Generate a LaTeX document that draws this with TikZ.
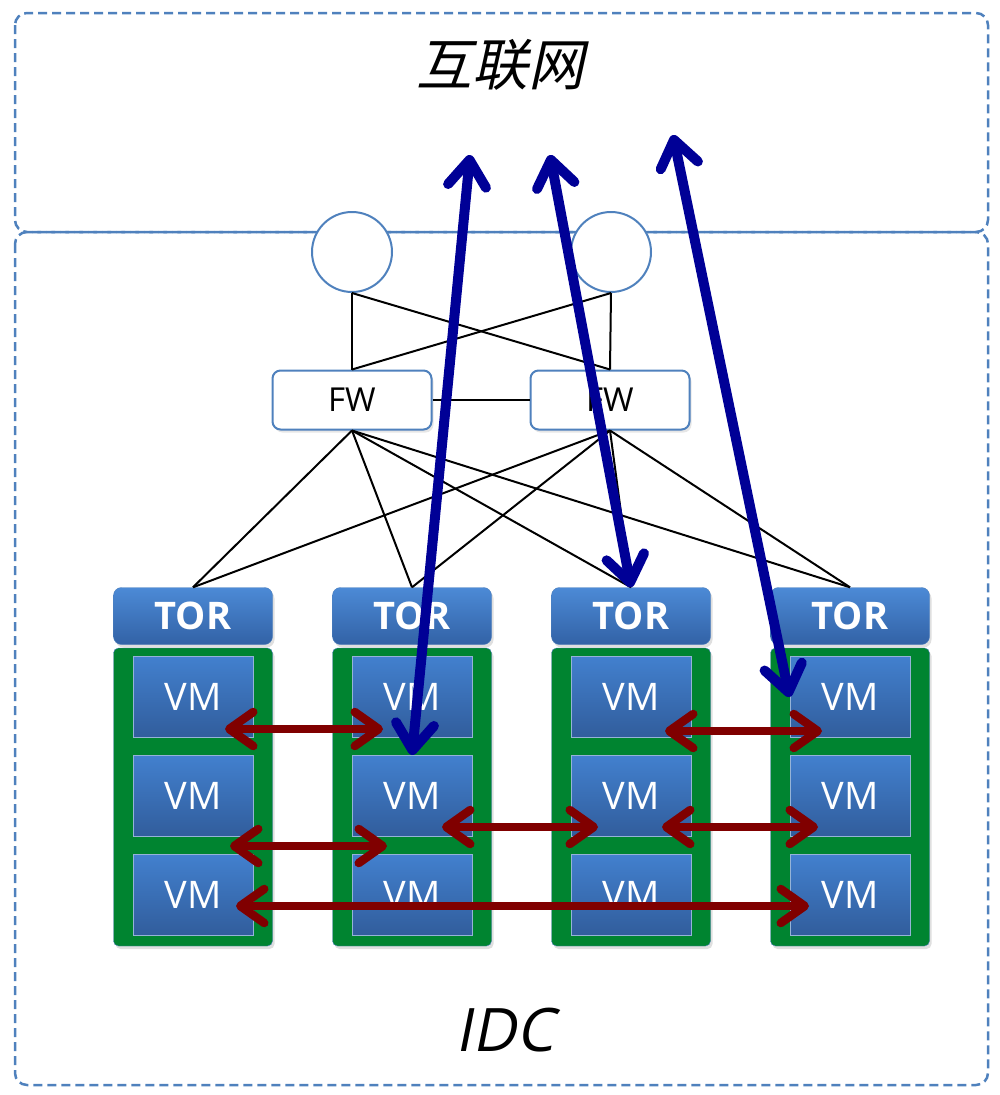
\documentclass[tikz,border=0pt]{standalone}
\usepackage{fontspec}
\setmainfont{Open Sans}
\newfontfamily\cjk{Noto Sans CJK SC}[FakeSlant=0.22]
\newfontfamily\slanted{Open Sans}[FakeSlant=0.2]
\usetikzlibrary{arrows.meta,shadows}

\definecolor{linkblue}{RGB}{79,129,189}
\definecolor{tortop}{RGB}{76,138,214}
\definecolor{torbottom}{RGB}{50,98,166}
\definecolor{vmtop}{RGB}{66,128,206}
\definecolor{vmbottom}{RGB}{49,93,156}
\definecolor{rackgreen}{RGB}{0,132,48}
\definecolor{flownavy}{RGB}{0,0,150}
\definecolor{flowred}{RGB}{128,0,0}

\tikzset{
  zone/.style={draw=linkblue,line width=2.5pt,dash pattern=on 9pt off 5pt,rounded corners=12pt},
  router/.style={circle,draw=linkblue,line width=2pt,fill=white,minimum size=80pt,inner sep=0pt},
  fwbox/.style={draw=linkblue,line width=2pt,fill=white,rounded corners=8pt,
    minimum width=159pt,minimum height=59pt,font=\fontsize{33}{35}\selectfont,
    drop shadow={opacity=0.2,shadow xshift=2pt,shadow yshift=-3pt}},
  torbox/.style={rounded corners=8pt,top color=tortop,bottom color=torbottom,draw=linkblue,
    minimum width=159pt,minimum height=57pt,text=white,font=\bfseries\fontsize{38}{40}\selectfont,
    drop shadow={opacity=0.25,shadow xshift=2pt,shadow yshift=-3pt}},
  rack/.style={fill=rackgreen,draw=linkblue,rounded corners=5pt,minimum width=159pt,minimum height=298pt,
    drop shadow={opacity=0.25,shadow xshift=2pt,shadow yshift=-3pt}},
  vmbox/.style={top color=vmtop,bottom color=vmbottom,draw=linkblue!60!white,line width=1pt,
    minimum width=120pt,minimum height=81pt,text=white,font=\fontsize{38}{40}\selectfont},
  link/.style={line width=2pt},
  uplink/.style={line width=10pt,flownavy,
    {Straight Barb[round,length=26pt,width=38pt]}-{Straight Barb[round,length=26pt,width=38pt]}},
  vmlink/.style={line width=8.5pt,flowred,
    {Straight Barb[round,length=24pt,width=34pt]}-{Straight Barb[round,length=24pt,width=34pt]}}
}

\begin{document}
\begin{tikzpicture}[x=1pt,y=-1pt]
\useasboundingbox (0,0) rectangle (999,1095);
% zones
\draw[zone] (15,13) rectangle (988,232);
\draw[zone] (15,232) rectangle (988,1085);
\node[font=\cjk\fontsize{56}{58}\selectfont] (inet) at (500,65) {互联网};
\node[font=\slanted\fontsize{60}{62}\selectfont] (idc) at (505,1030) {IDC};

% routers and firewalls
\node[router] (r1) at (352,252) {};
\node[router] (r2) at (611,252) {};
\node[fwbox] (fw1) at (352,400) {FW};
\node[fwbox] (fw2) at (610,400) {FW};
\draw[link] (r1.south) -- (fw1.north);
\draw[link] (r1.south) -- (fw2.north);
\draw[link] (r2.south) -- (fw2.north);
\draw[link] (r2.south) -- (fw1.north);
\draw[link] (fw1.east) -- (fw2.west);

% racks
\foreach \c/\x in {1/193,2/412,3/631,4/850}{
  \node[rack] (rack\c) at (\x,797) {};
  \node[torbox] (tor\c) at (\x,616) {TOR};
  \foreach \v/\y in {1/697,2/796,3/895}
    \node[vmbox] (vm\c\v) at (\x,\y) {VM};
}
\foreach \f in {fw1,fw2}
  \foreach \c in {1,...,4}
    \draw[link] (\f.south) -- (tor\c.north);

% east-west traffic
\coordinate (e1a) at (225,729);
\coordinate (e1b) at (383,729);
\coordinate (e2a) at (665,731);
\coordinate (e2b) at (822,731);
\coordinate (e3a) at (230,846);
\coordinate (e3b) at (387,846);
\coordinate (e4a) at (442,827);
\coordinate (e4b) at (598,827);
\coordinate (e5a) at (662,827);
\coordinate (e5b) at (818,827);
\coordinate (e6a) at (236,906);
\coordinate (e6b) at (809,906);
\foreach \i in {1,...,6}
  \draw[vmlink] (e\i a) -- (e\i b);

% north-south traffic
\coordinate (n1) at (470,155);
\coordinate (n2) at (550,155);
\coordinate (n3) at (673,135);
\draw[uplink] (n1) -- (vm22.north);
\draw[uplink] (n2) -- (tor3.north);
\draw[uplink] (n3) -- (vm41.west);
\end{tikzpicture}
\end{document}
